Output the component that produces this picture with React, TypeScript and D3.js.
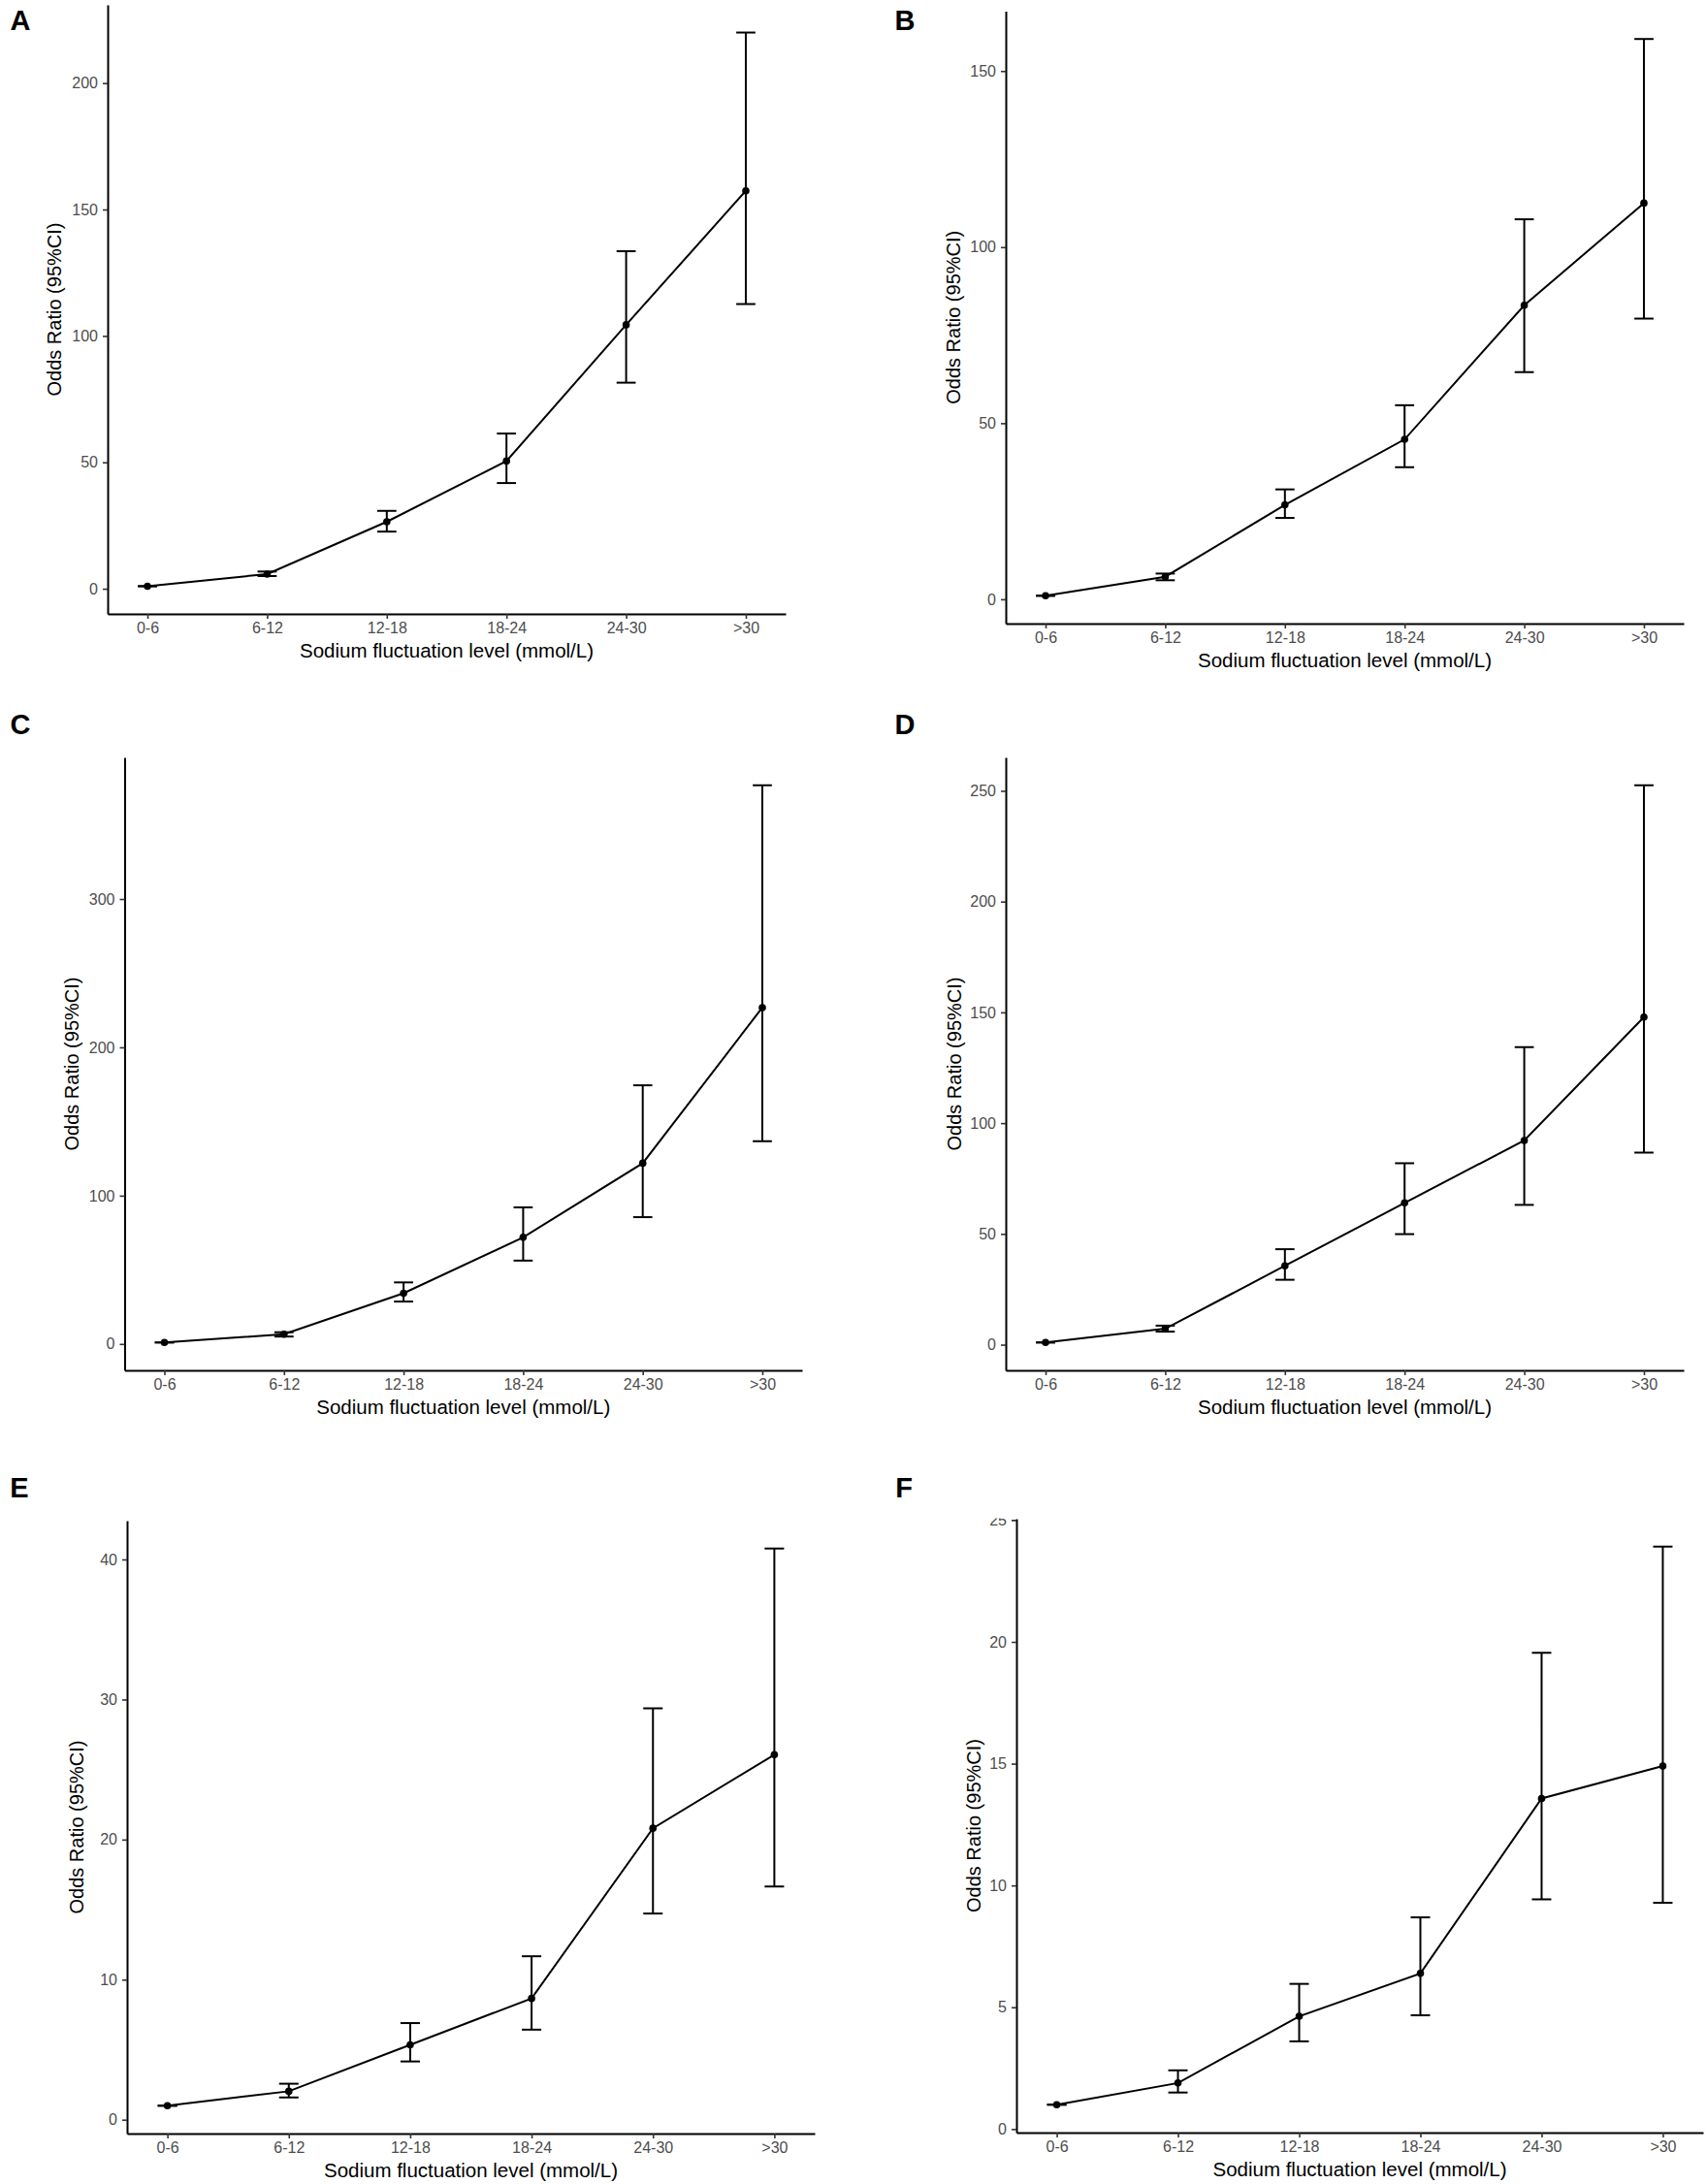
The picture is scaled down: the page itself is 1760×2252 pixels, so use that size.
import React, { useRef, useEffect } from "react";
import * as d3 from "d3";

const categories = ["0-6", "6-12", "12-18", "18-24", "24-30", ">30"];

// odds ratios with 95% CI, one set per panel
const orA = [1, 5.8, 26.5, 50.5, 104.4, 157.4];
const loA = [1, 5.0, 22.6, 41.8, 81.5, 112.6];
const hiA = [1, 6.8, 30.8, 61.4, 133.5, 220.0];

const orB = [1, 6.4, 26.8, 45.4, 83.5, 112.5];
const loB = [1, 5.4, 23.1, 37.5, 64.5, 79.7];
const hiB = [1, 7.3, 31.2, 55.1, 107.9, 159.1];

const orC = [1, 6.6, 34.2, 71.9, 121.9, 226.8];
const loC = [1, 5.0, 28.6, 56.2, 85.5, 136.7];
const hiC = [1, 7.9, 41.5, 92.1, 174.4, 376.7];

const orD = [1, 7.2, 35.6, 64.0, 92.2, 147.9];
const loD = [1, 5.9, 29.3, 49.9, 63.1, 86.7];
const hiD = [1, 8.6, 43.1, 81.9, 134.3, 252.5];

const orE = [1, 2.03, 5.35, 8.66, 20.81, 26.06];
const loE = [1, 1.59, 4.16, 6.43, 14.72, 16.65];
const hiE = [1, 2.57, 6.9, 11.67, 29.37, 40.78];

const orF = [1, 1.89, 4.63, 6.39, 13.57, 14.9];
const loF = [1, 1.5, 3.6, 4.67, 9.43, 9.29];
const hiF = [1, 2.41, 5.96, 8.69, 19.55, 23.91];

const ticksA = [0, 50, 100, 150, 200];
const ticksB = [0, 50, 100, 150];
const ticksC = [0, 100, 200, 300];
const ticksD = [0, 50, 100, 150, 200, 250];
const ticksE = [0, 10, 20, 30, 40];
const ticksF = [0, 5, 10, 15, 20, 25];

const panelLabels = ["A", "B", "C", "D", "E", "F"];

// panel geometry in page pixels (left, right, top, bottom of the axes, label spot)
const layout = [
  { l: 111, r: 810, t: 5, b: 633, lx: 21, ly: 21, yt: 55, clip: null },
  { l: 1037, r: 1736, t: 11.5, b: 643, lx: 933, ly: 21, yt: 54, clip: null },
  { l: 128.5, r: 827, t: 781, b: 1413, lx: 21, ly: 747, yt: 55, clip: null },
  { l: 1037, r: 1736, t: 781, b: 1413, lx: 933, ly: 747, yt: 53, clip: null },
  { l: 131, r: 840, t: 1568, b: 2200, lx: 20, ly: 1534, yt: 52, clip: null },
  // the top of panel F is cropped through its "25" label
  { l: 1048, r: 1756, t: 1566, b: 2199, lx: 932, ly: 1534, yt: 44, clip: 1565.5 },
];

const series = [
  { or: orA, lo: loA, hi: hiA, ticks: ticksA },
  { or: orB, lo: loB, hi: hiB, ticks: ticksB },
  { or: orC, lo: loC, hi: hiC, ticks: ticksC },
  { or: orD, lo: loD, hi: hiD, ticks: ticksD },
  { or: orE, lo: loE, hi: hiE, ticks: ticksE },
  { or: orF, lo: loF, hi: hiF, ticks: ticksF },
];

const W = 1760;
const H = 2252;
const font = "'Liberation Sans', Arial, Helvetica, sans-serif";

const App: React.FC = () => {
  const svgRef = useRef<SVGSVGElement | null>(null);

  useEffect(() => {
    const svg = d3.select(svgRef.current);
    svg.selectAll("*").remove();
    svg.append("rect").attr("width", W).attr("height", H).attr("fill", "#fff");

    const defs = svg.append("defs");

    series.forEach((s, p) => {
      const L = layout[p];
      const g = svg.append("g");

      if (L.clip !== null) {
        defs
          .append("clipPath")
          .attr("id", `clip${p}`)
          .append("rect")
          .attr("x", L.l - 200)
          .attr("y", L.clip)
          .attr("width", 1000)
          .attr("height", 1000);
        g.attr("clip-path", `url(#clip${p})`);
      }

      // error bars widen the x range: 0.075 each side, then 5% expansion
      const idx = categories.map((_, i) => i + 1);
      const span = 5 + 0.15;
      const pad = 0.075 + 0.05 * span;
      const x = d3
        .scaleLinear()
        .domain([1 - pad, 6 + pad])
        .range([L.l, L.r]);

      const lo = d3.min(s.lo)!;
      const hi = d3.max(s.hi)!;
      const r = hi - lo;
      const y = d3
        .scaleLinear()
        .domain([lo - 0.05 * r, hi + 0.05 * r])
        .range([L.b, L.t]);

      // axes
      const xAxis = g
        .append("g")
        .attr("transform", `translate(0,${L.b})`)
        .call(
          d3
            .axisBottom(x)
            .tickValues(idx)
            .tickFormat((d) => categories[(d as number) - 1])
            .tickSize(5)
            .tickSizeOuter(0)
            .tickPadding(4)
        );

      const yAxis = g
        .append("g")
        .attr("transform", `translate(${L.l},0)`)
        .call(d3.axisLeft(y).tickValues(s.ticks).tickSize(5).tickSizeOuter(0).tickPadding(5));

      [xAxis, yAxis].forEach((ax) => {
        ax.select(".domain").attr("stroke", "#000").attr("stroke-width", 2);
        ax.selectAll(".tick line").attr("stroke", "#333").attr("stroke-width", 1.6);
        ax.selectAll(".tick text")
          .attr("fill", "#4d4d4d")
          .style("font-family", font)
          .style("font-size", "16px");
      });

      // connecting line
      const line = d3
        .line<number>()
        .x((_, i) => x(i + 1))
        .y((d) => y(d));
      g.append("path")
        .datum(s.or)
        .attr("d", line)
        .attr("fill", "none")
        .attr("stroke", "#000")
        .attr("stroke-width", 2);

      // error bars
      const cap = 0.08;
      const eb = g.append("g").attr("stroke", "#000").attr("stroke-width", 2).attr("fill", "none");
      s.or.forEach((_, i) => {
        const cx = x(i + 1);
        eb.append("line").attr("x1", cx).attr("x2", cx).attr("y1", y(s.lo[i])).attr("y2", y(s.hi[i]));
        eb.append("line")
          .attr("x1", x(i + 1 - cap))
          .attr("x2", x(i + 1 + cap))
          .attr("y1", y(s.hi[i]))
          .attr("y2", y(s.hi[i]));
        eb.append("line")
          .attr("x1", x(i + 1 - cap))
          .attr("x2", x(i + 1 + cap))
          .attr("y1", y(s.lo[i]))
          .attr("y2", y(s.lo[i]));
      });

      // points
      g.selectAll("circle.pt")
        .data(s.or)
        .enter()
        .append("circle")
        .attr("class", "pt")
        .attr("cx", (_, i) => x(i + 1))
        .attr("cy", (d) => y(d))
        .attr("r", 3.8)
        .attr("fill", "#000");

      // axis titles
      g.append("text")
        .attr("x", (L.l + L.r) / 2)
        .attr("y", L.b + 37)
        .attr("text-anchor", "middle")
        .attr("dominant-baseline", "central")
        .style("font-family", font)
        .style("font-size", "20.5px")
        .attr("fill", "#000")
        .text("Sodium fluctuation level (mmol/L)");

      g.append("text")
        .attr("transform", `translate(${L.l - L.yt},${(L.t + L.b) / 2}) rotate(-90)`)
        .attr("text-anchor", "middle")
        .attr("dominant-baseline", "central")
        .style("font-family", font)
        .style("font-size", "20px")
        .attr("fill", "#000")
        .text("Odds Ratio (95%CI)");

      svg
        .append("text")
        .attr("x", L.lx)
        .attr("y", L.ly)
        .attr("text-anchor", "middle")
        .attr("dominant-baseline", "central")
        .style("font-family", font)
        .style("font-size", "29px")
        .style("font-weight", "bold")
        .attr("fill", "#000")
        .text(panelLabels[p]);
    });
  }, []);

  return (
    <svg
      ref={svgRef}
      width={W}
      height={H}
      style={{ position: "absolute", left: 0, top: 0, display: "block" }}
    ></svg>
  );
};

export default App;
